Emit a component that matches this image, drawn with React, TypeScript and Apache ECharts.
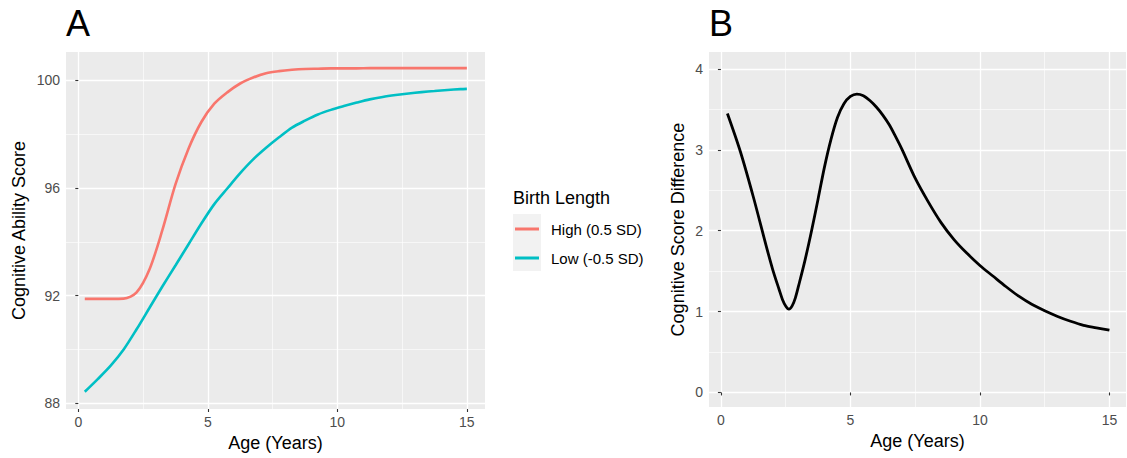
import React, { useEffect, useRef } from "react";
import * as echarts from "echarts";

// Panel A: cognitive ability score by age
const ageA = [0.25, 0.75, 1.25, 1.75, 2.25, 2.75, 3.25, 3.75, 4.25, 4.75, 5.25, 5.75, 6.25, 6.75, 7.25, 7.75, 8.25, 8.75, 9.25, 9.75, 10.25, 10.75, 11.25, 11.75, 12.25, 12.75, 13.25, 13.75, 14.25, 14.75, 15];
const scoreHigh = [91.88, 91.88, 91.88, 91.89, 92.12, 92.98, 94.45, 96.13, 97.45, 98.45, 99.13, 99.55, 99.88, 100.1, 100.26, 100.34, 100.39, 100.42, 100.43, 100.44, 100.44, 100.44, 100.45, 100.45, 100.45, 100.45, 100.45, 100.45, 100.45, 100.45, 100.45];
const scoreLow = [88.43, 88.9, 89.4, 90.0, 90.75, 91.55, 92.35, 93.12, 93.9, 94.68, 95.4, 95.98, 96.55, 97.06, 97.49, 97.88, 98.24, 98.5, 98.73, 98.9, 99.04, 99.17, 99.29, 99.38, 99.45, 99.51, 99.56, 99.6, 99.64, 99.67, 99.68];

// Panel B: score difference by age
const ageB = [0.25, 0.75, 1.25, 1.75, 2.0, 2.25, 2.375, 2.5, 2.625, 2.75, 2.875, 3.0, 3.25, 3.5, 3.75, 4.0, 4.25, 4.5, 4.75, 5.0, 5.25, 5.5, 5.75, 6.0, 6.25, 6.5, 6.75, 7.0, 7.5, 8.0, 8.5, 9.0, 9.5, 10.0, 10.5, 11.0, 11.5, 12.0, 12.5, 13.0, 13.5, 14.0, 14.5, 15.0];
const scoreDiff = [3.45, 2.98, 2.42, 1.81, 1.52, 1.27, 1.15, 1.07, 1.03, 1.07, 1.17, 1.32, 1.64, 2.0, 2.39, 2.79, 3.13, 3.4, 3.57, 3.66, 3.69, 3.67, 3.61, 3.53, 3.43, 3.31, 3.16, 3.0, 2.65, 2.36, 2.1, 1.89, 1.72, 1.57, 1.44, 1.31, 1.19, 1.09, 1.01, 0.94, 0.88, 0.83, 0.8, 0.77];

// Tick labels
const ageTicks = [0, 5, 10, 15];
const ageMinor = [2.5, 7.5, 12.5];
const scoreTicks = [88, 92, 96, 100];
const scoreMinor = [90, 94, 98];
const diffTicks = [0, 1, 2, 3, 4];
const diffMinor = [0.5, 1.5, 2.5, 3.5];

const seriesNames = ["High (0.5 SD)", "Low (-0.5 SD)"];

const FONT = "'Liberation Sans', Arial, sans-serif";

const zip = (xs: number[], ys: number[]) => xs.map((x, i) => [x, ys[i]]);

function majorAxis(gridIndex: number, min: number, max: number, ticks: number[], name: string, nameGap: number, isY: boolean) {
  return {
    type: "value",
    gridIndex,
    min,
    max,
    position: isY ? "left" : "bottom",
    name,
    nameLocation: "middle",
    nameGap,
    nameTextStyle: { color: "#000", fontSize: 18, fontFamily: FONT },
    axisLine: { show: false },
    axisTick: { show: true, length: 3, customValues: ticks, lineStyle: { color: "#333", width: 1.1 } },
    axisLabel: { show: true, customValues: ticks, margin: 6, color: "#4D4D4D", fontSize: 14, fontFamily: FONT },
    splitLine: { show: true, lineStyle: { color: "#FFFFFF", width: 1.3 } },
  };
}

function minorAxis(gridIndex: number, min: number, max: number, ticks: number[], isY: boolean) {
  return {
    type: "value",
    gridIndex,
    min,
    max,
    position: isY ? "right" : "top",
    axisLine: { show: false },
    axisTick: { show: false, customValues: ticks },
    axisLabel: { show: false, customValues: ticks },
    splitLine: { show: true, lineStyle: { color: "#FFFFFF", width: 0.6 } },
  };
}

export default function App() {
  const ref = useRef<HTMLDivElement>(null);
  useEffect(() => {
    if (!ref.current) return;
    const chart = echarts.init(ref.current, undefined, { renderer: "svg" });
    const lineSeries = (name: string, xi: number, data: number[][], color: string, width: number) => ({
      name,
      type: "line",
      xAxisIndex: xi,
      yAxisIndex: xi,
      data,
      smooth: 0.3,
      showSymbol: false,
      symbol: "none",
      color,
      lineStyle: { color, width },
    });
    const option: any = {
      animation: false,
      backgroundColor: "#FFFFFF",
      textStyle: { fontFamily: FONT },
      grid: [
        { left: 66, top: 52, width: 419, height: 357, show: true, backgroundColor: "#EBEBEB", borderWidth: 0 },
        { left: 709, top: 52, width: 417, height: 355, show: true, backgroundColor: "#EBEBEB", borderWidth: 0 },
      ],
      xAxis: [
        majorAxis(0, -0.475, 15.7, ageTicks, "Age (Years)", 24, false),
        minorAxis(0, -0.475, 15.7, ageMinor, false),
        majorAxis(1, -0.46, 15.64, ageTicks, "Age (Years)", 24, false),
        minorAxis(1, -0.46, 15.64, ageMinor, false),
      ],
      yAxis: [
        majorAxis(0, 87.79, 101.05, scoreTicks, "Cognitive Ability Score", 38, true),
        minorAxis(0, 87.79, 101.05, scoreMinor, true),
        majorAxis(1, -0.18, 4.21, diffTicks, "Cognitive Score Difference", 22, true),
        minorAxis(1, -0.18, 4.21, diffMinor, true),
      ],
      legend: {
        data: seriesNames,
        orient: "vertical",
        left: 515,
        top: 221.5,
        padding: 0,
        itemWidth: 24,
        itemHeight: 3,
        itemGap: 14,
        icon: "rect",
        textStyle: { color: "#000", fontSize: 15, fontFamily: FONT, lineHeight: 15, padding: [0, 0, 0, 7] },
      },
      graphic: [
        { type: "rect", left: 513, top: 214, shape: { width: 28, height: 57 }, style: { fill: "#F2F2F2" }, z: -1 },
        { type: "text", left: 513, top: 189, style: { text: "Birth Length", fontSize: 18, fontFamily: FONT, fill: "#000" } },
        { type: "text", x: 66, y: 23, style: { text: "A", fontSize: 36, fontFamily: FONT, fill: "#000", verticalAlign: "middle" } },
        { type: "text", x: 709, y: 23, style: { text: "B", fontSize: 36, fontFamily: FONT, fill: "#000", verticalAlign: "middle" } },
      ],
      series: [
        lineSeries(seriesNames[0], 0, zip(ageA, scoreHigh), "#F8766D", 2.6),
        lineSeries(seriesNames[1], 0, zip(ageA, scoreLow), "#00BFC4", 2.6),
        lineSeries("Difference", 2, zip(ageB, scoreDiff), "#000000", 2.8),
      ],
    };
    chart.setOption(option);
    return () => chart.dispose();
  }, []);
  return (
    <div
      ref={ref}
      style={{ position: "absolute", left: 0, top: 0, width: 1127, height: 458 }}
    />
  );
}
